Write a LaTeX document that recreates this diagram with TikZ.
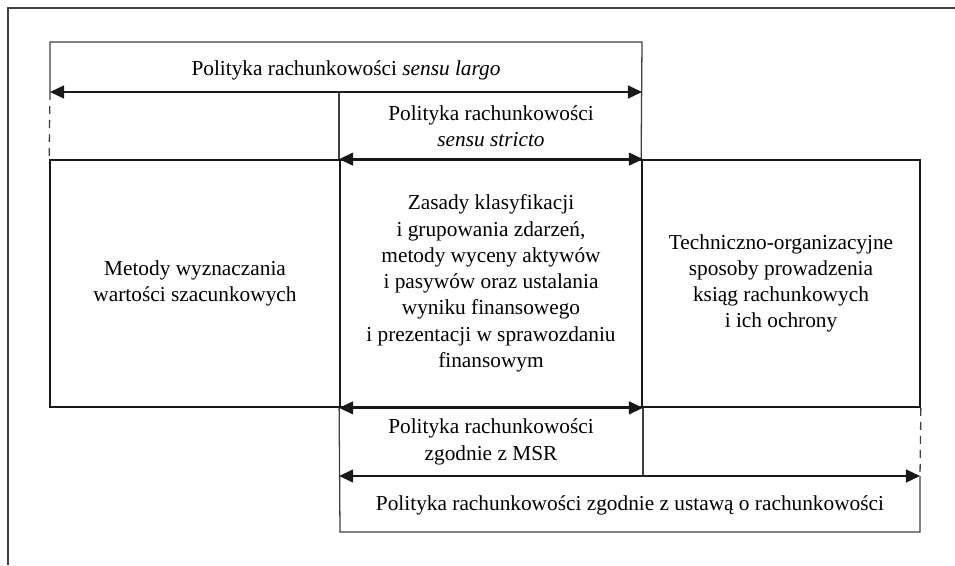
\documentclass[tikz,border=0pt]{standalone}
\usepackage{fontspec}
\setmainfont{Liberation Serif}
\usetikzlibrary{arrows.meta}

\tikzset{
  pole/.style={draw=black!90, line width=1.5pt, minimum height=74.1mm, inner sep=0pt, align=center},
  zakres/.style={{Triangle[length=12pt,width=11pt]}-{Triangle[length=12pt,width=11pt]}, line width=1.5pt, black!90},
  cienka/.style={draw=black!75, line width=1.1pt},
  przerywana/.style={cienka, dash pattern=on 2.4mm off 1.8mm},
  opis/.style={align=center, inner sep=0pt},
}

\begin{document}
\begin{tikzpicture}[x=0.3mm,y=-0.3mm,font=\fontsize{18.2}{22.4}\selectfont]
  \useasboundingbox (0,0) rectangle (955,565);
  \draw[cienka] (8,565) -- (8,8) -- (955,8);
  % wiersz glowny
  \node[pole, minimum width=87mm] (metody) at (195,283.5) {Metody wyznaczania\\wartości szacunkowych};
  \node[pole, minimum width=90.6mm] (zasady) at (491,283.5) {Zasady klasyfikacji\\i grupowania zdarzeń,\\metody wyceny aktywów\\i pasywów oraz ustalania\\wyniku finansowego\\i prezentacji w sprawozdaniu\\finansowym};
  \node[pole, minimum width=83.4mm] (techn) at (781,283.5) {Techniczno-organizacyjne\\sposoby prowadzenia\\ksiąg rachunkowych\\i ich ochrony};
  % sensu largo
  \coordinate (largoL) at (50,92);
  \coordinate (largoR) at (642,92);
  \draw[cienka] (largoL) -- (50,42) -- (642,42) -- (techn.north west);
  \draw[przerywana] (largoL) -- (metody.north west);
  \draw[cienka] (zasady.north west) -- (zasady.north west |- largoL);
  \draw[zakres] (largoL) -- (largoR);
  \node[opis] (largo) at (346,70) {Polityka rachunkowości \textit{sensu largo}};
  % sensu stricto
  \draw[zakres] (zasady.north west) -- (zasady.north east);
  \node[opis] (stricto) at (491,126.5) {Polityka rachunkowości\\\textit{sensu stricto}};
  % MSR
  \draw[zakres] (zasady.south west) -- (zasady.south east);
  \node[opis] (msr) at (491,442) {Polityka rachunkowości\\zgodnie z MSR};
  % ustawa
  \coordinate (ustawaR) at (920,476);
  \draw[cienka] (zasady.south west) -- (340,532) -- (920,532) -- (ustawaR);
  \draw[przerywana] (techn.south east) -- (ustawaR);
  \draw[cienka] (zasady.south east) -- (zasady.south east |- ustawaR);
  \draw[zakres] (zasady.south west |- ustawaR) -- (ustawaR);
  \node[opis] (ustawa) at (630,505) {Polityka rachunkowości zgodnie z ustawą o rachunkowości};
\end{tikzpicture}
\end{document}
